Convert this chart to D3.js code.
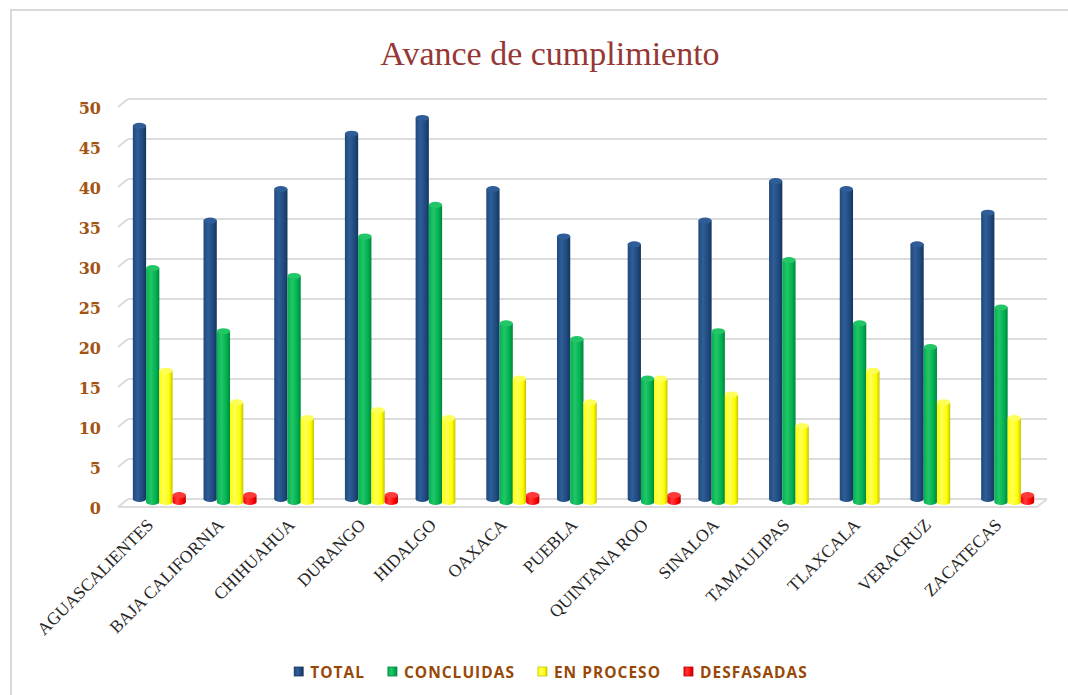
<!DOCTYPE html>
<html>
<head>
<meta charset="utf-8">
<script src="https://cdn.jsdelivr.net/npm/d3@7"></script>
<style>
  html, body { margin: 0; padding: 0; background: #ffffff; }
  svg { display: block; }
</style>
</head>
<body>
<svg id="chart" width="1068" height="695"></svg>
<script>
const categories = ["AGUASCALIENTES","BAJA CALIFORNIA","CHIHUAHUA","DURANGO","HIDALGO","OAXACA","PUEBLA","QUINTANA ROO","SINALOA","TAMAULIPAS","TLAXCALA","VERACRUZ","ZACATECAS"];
const seriesNames = ["TOTAL","CONCLUIDAS","EN PROCESO","DESFASADAS"];
const total      = [48, 36, 40, 47, 49, 40, 34, 33, 36, 41, 40, 33, 37];
const concluidas = [30, 22, 29, 34, 38, 23, 21, 16, 22, 31, 23, 20, 25];
const enProceso  = [17, 13, 11, 12, 11, 16, 13, 16, 14, 10, 17, 13, 11];
const desfasadas = [1, 1, 0, 1, 0, 1, 0, 1, 0, 0, 0, 0, 1];
const yTicks = [0, 5, 10, 15, 20, 25, 30, 35, 40, 45, 50];
const title = "Avance de cumplimiento";

const seriesValues = [total, concluidas, enProceso, desfasadas];
const colors = [
  {base:"#1f497d", light:"#2f5d97", dark:"#15345b"},
  {base:"#00b050", light:"#22c667", dark:"#00853c"},
  {base:"#ffff00", light:"#ffff5a", dark:"#c4c400"},
  {base:"#ff0000", light:"#ff3a3a", dark:"#b80000"}
];

const svg = d3.select("#chart");
const defs = svg.append("defs");
colors.forEach((c, i) => {
  const g = defs.append("linearGradient").attr("id", "g" + i)
    .attr("x1", "0%").attr("x2", "100%").attr("y1", "0%").attr("y2", "0%");
  g.append("stop").attr("offset", "0%").attr("stop-color", c.base);
  g.append("stop").attr("offset", "35%").attr("stop-color", c.light);
  g.append("stop").attr("offset", "75%").attr("stop-color", c.base);
  g.append("stop").attr("offset", "100%").attr("stop-color", c.dark);
});

// chart border
svg.append("rect").attr("x", 11).attr("y", 10).attr("width", 1080).attr("height", 720)
  .attr("fill", "none").attr("stroke", "#d9d9d9").attr("stroke-width", 2);

// title
svg.append("text").attr("x", 550).attr("y", 65).attr("text-anchor", "middle")
  .attr("font-family", "Liberation Serif").attr("font-size", 34).attr("fill", "#953735")
  .text(title);

// scales
const x0 = d3.scaleBand().domain(categories).range([118 + 6, 1037 + 6]);
const bw = x0.bandwidth();
const gw = bw * 0.75;
const x1 = d3.scaleBand().domain(seriesNames).range([(bw - gw) / 2, (bw + gw) / 2]);
const yF = d3.scaleLinear().domain([0, 50]).range([507, 107]);
const yB = d3.scaleLinear().domain([0, 50]).range([499, 99]);
const yBar = d3.scaleLinear().domain([0, 50]).range([505, 110]);

// gridlines (back wall + side stubs)
const grid = svg.append("g").attr("stroke", "#dcdcdc").attr("stroke-width", 2).attr("fill", "none");
yTicks.forEach(v => {
  grid.append("line").attr("x1", 128).attr("x2", 1047).attr("y1", yB(v)).attr("y2", yB(v));
  grid.append("line").attr("x1", 118).attr("x2", 128).attr("y1", yF(v)).attr("y2", yB(v));
});
// floor front edge
grid.append("line").attr("x1", 118).attr("x2", 1037).attr("y1", yF(0)).attr("y2", yF(0));
grid.append("line").attr("x1", 1037).attr("x2", 1047).attr("y1", yF(0)).attr("y2", yB(0));

// y tick labels
svg.append("g").selectAll("text").data(yTicks).join("text")
  .attr("x", 101).attr("y", d => yF(d) + 2).attr("text-anchor", "end")
  .attr("dominant-baseline", "middle")
  .attr("font-family", "DejaVu Serif").attr("font-weight", "bold").attr("font-size", 16)
  .attr("fill", "#a3520f").text(d => d);

// bars
const barsG = svg.append("g");
categories.forEach((cat, ci) => {
  seriesNames.forEach((s, si) => {
    const v = seriesValues[si][ci];
    if (v <= 0) return;
    const bx = x0(cat) + x1(s);
    const w = x1.bandwidth();
    const top = yBar(v) - (si === 3 ? 2 : 0);
    const bottom = si === 0 ? yBar(0) - 6 : yBar(0) - 3;
    const ry = 3;
    const g = barsG.append("g");
    g.append("rect").attr("x", bx).attr("y", top).attr("width", w)
      .attr("height", Math.max(0, bottom - top)).attr("fill", `url(#g${si})`);
    g.append("ellipse").attr("cx", bx + w / 2).attr("cy", bottom).attr("rx", w / 2).attr("ry", ry)
      .attr("fill", `url(#g${si})`);
    g.append("ellipse").attr("cx", bx + w / 2).attr("cy", top).attr("rx", w / 2).attr("ry", ry)
      .attr("fill", colors[si].light);
  });
});

// x labels
svg.append("g").selectAll("text").data(categories).join("text")
  .attr("transform", d => `translate(${x0(d) + bw / 2 - 5},${526}) rotate(-45)`)
  .attr("text-anchor", "end")
  .attr("font-family", "Liberation Serif").attr("font-size", 17.5).attr("fill", "#262626")
  .text(d => d);

// legend
const legend = svg.append("g");
let lx = 0;
seriesNames.forEach((s, i) => {
  const it = legend.append("g");
  it.append("rect").attr("x", 0).attr("y", -11).attr("width", 9).attr("height", 9)
    .attr("fill", `url(#g${i})`).attr("stroke", colors[i].dark).attr("stroke-width", 0.8);
  const t = it.append("text").attr("x", 16).attr("y", 0)
    .attr("font-family", "Open Sans").attr("font-weight", "bold").attr("font-size", 15.5)
    .attr("letter-spacing", 1).attr("fill", "#984807").text(s);
  const tw = t.node().getComputedTextLength();
  it.attr("transform", `translate(${lx},0)`);
  lx += 16 + tw + 23;
});
const legendW = lx - 23;
legend.attr("transform", `translate(${551 - legendW / 2},678)`);
</script>
</body>
</html>
